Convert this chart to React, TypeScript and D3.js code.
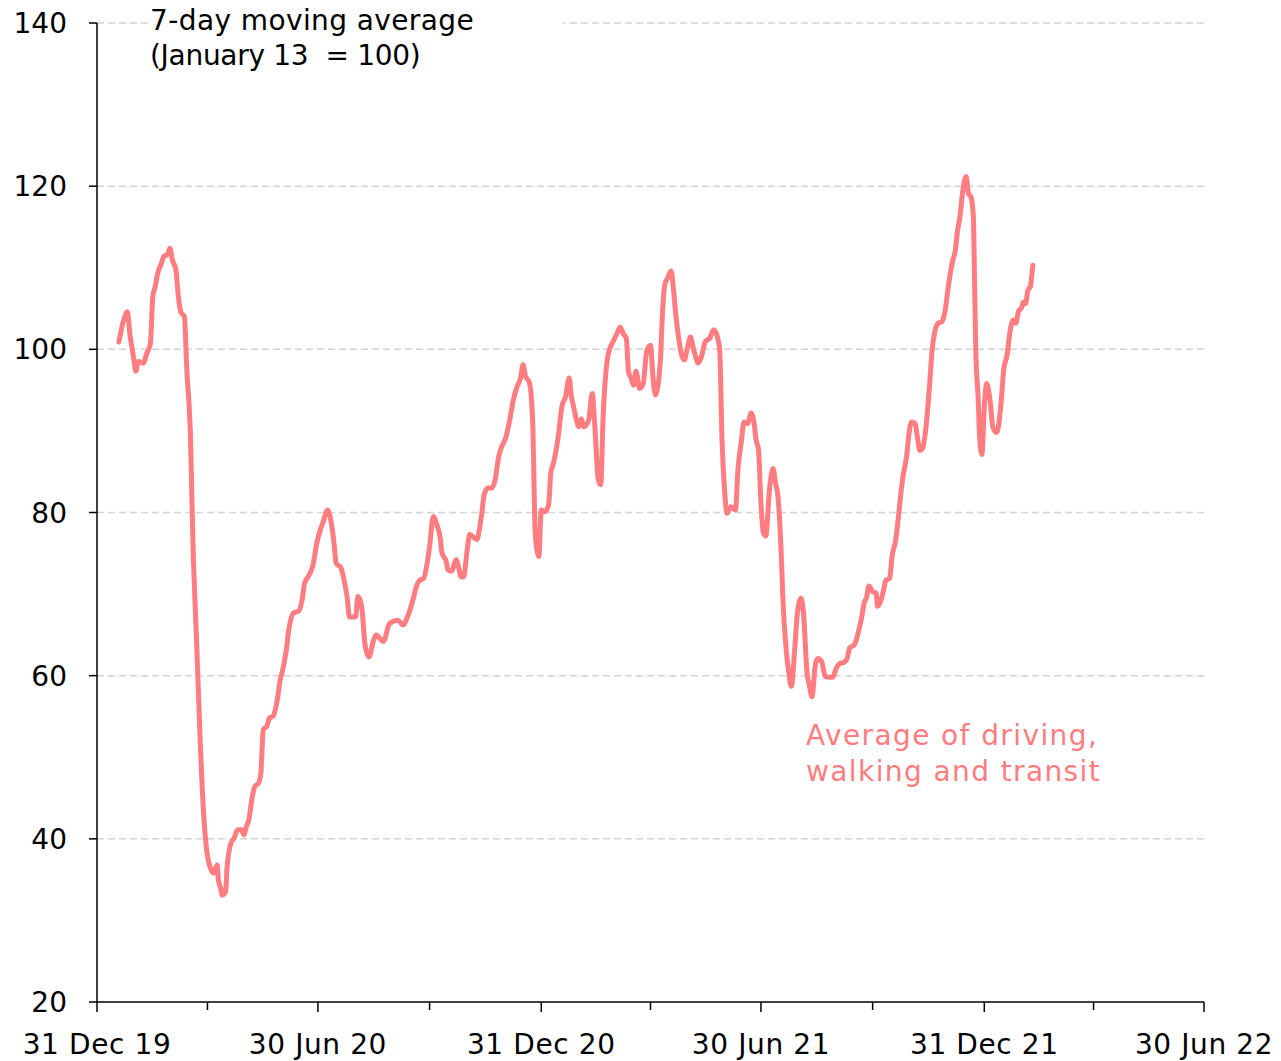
import React from "react";
import * as d3 from "d3";

// ---- Data (7-day moving average, January 13 = 100) ----
const days2020 = [
  "01-18", "01-22", "01-25", "01-27", "01-30",
  "02-01", "02-03", "02-07", "02-10", "02-13", "02-15", "02-17", "02-19", "02-22", "02-24", "02-27", "02-29",
  "03-02", "03-05", "03-07", "03-09", "03-12", "03-14", "03-17", "03-19", "03-22", "03-25", "03-28", "03-30",
  "04-03", "04-05", "04-08", "04-09", "04-11", "04-12", "04-15", "04-16", "04-19", "04-22", "04-25", "04-28", "04-30",
  "05-02", "05-04", "05-07", "05-09", "05-12", "05-14", "05-16", "05-19", "05-21", "05-24", "05-27", "05-30",
  "06-01", "06-04", "06-06", "06-10", "06-14", "06-17", "06-19", "06-23", "06-26", "06-29",
  "07-02", "07-04", "07-08", "07-10", "07-13", "07-15", "07-19", "07-21", "07-24", "07-26", "07-31",
  "08-02", "08-05", "08-08", "08-11", "08-15", "08-17", "08-23", "08-28",
  "09-04", "09-08", "09-12", "09-17", "09-19", "09-22", "09-25", "09-28", "09-30",
  "10-03", "10-06", "10-09", "10-10", "10-14", "10-15", "10-18", "10-22", "10-24", "10-26", "10-28", "10-31",
  "11-02", "11-08", "11-10", "11-12", "11-14", "11-17", "11-20", "11-23", "11-26", "11-28",
  "12-02", "12-05", "12-08", "12-11", "12-14", "12-16", "12-18", "12-21", "12-23", "12-24", "12-26", "12-28", "12-29", "12-31",
];
const values2020 = [
  100.9, 103.6, 104.6, 102, 99.1,
  97.3, 98.5, 98.3, 99.5, 100.7, 106.5, 107.7, 109.3, 110.5, 111.4, 111.6, 112.4,
  111, 109.7, 106.5, 104.6, 104, 97.5, 89.3, 76.6, 64.4, 52.1, 42.7, 39.1,
  36.2, 35.8, 36.8, 35, 33.9, 33.1, 33.5, 36.2, 39.3, 40.1, 41.1, 41.1, 40.5,
  41.5, 42.3, 45.2, 46.4, 46.8, 48.1, 53.4, 53.8, 54.8, 55, 56.6, 59.5,
  60.7, 63.2, 65.6, 67.7, 67.9, 69.3, 71.3, 72.4, 73.6, 76.2,
  77.9, 78.7, 80.3, 79.5, 76.6, 73.8, 73.2, 72.1, 69.7, 67.2, 67.2,
  69.7, 68.5, 63.6, 62.3, 64.4, 65, 64.2, 66.4,
  66.8, 66.2, 67.3, 69.7, 70.9, 71.7, 71.9, 73.8, 75.8,
  79.5, 78.5, 76.6, 75.2, 73.8, 73, 72.8, 74.2, 73.2, 72.1, 72.1, 75.4,
  77.3, 76.7, 77.9, 79.9, 82.2, 83, 83, 84, 86.9, 87.9,
  89.3, 91.3, 93.8, 95.4, 96.5, 98.1, 96.7, 96, 93.8, 90.9, 77.5, 75, 74.6, 80.3,
];
const days2021 = [
  "01-03", "01-06", "01-08", "01-10", "01-14", "01-17", "01-20", "01-23", "01-25", "01-26", "01-29", "01-31",
  "02-02", "02-04", "02-08", "02-11", "02-13", "02-16", "02-18", "02-20", "02-23", "02-26", "02-28",
  "03-03", "03-06", "03-09", "03-11", "03-13", "03-15", "03-17", "03-19", "03-22", "03-25", "03-28", "03-31",
  "04-02", "04-04", "04-08", "04-10", "04-12", "04-14", "04-17", "04-19", "04-21", "04-23", "04-26", "04-28", "04-30",
  "05-03", "05-05", "05-08", "05-09", "05-12", "05-15", "05-19", "05-22", "05-25", "05-27", "05-29", "05-31",
  "06-02", "06-05", "06-09", "06-11", "06-14", "06-16", "06-19", "06-22", "06-24", "06-26", "06-28", "06-30",
  "07-02", "07-04", "07-07", "07-10", "07-12", "07-14", "07-17", "07-18", "07-21", "07-23", "07-25", "07-28", "07-30",
  "08-02", "08-04", "08-07", "08-09", "08-11", "08-14", "08-16", "08-19", "08-22", "08-25", "08-28", "08-31",
  "09-03", "09-06", "09-09", "09-11", "09-15", "09-18", "09-21", "09-23", "09-25", "09-27", "09-30",
  "10-03", "10-04", "10-07", "10-09", "10-11", "10-14", "10-16", "10-19", "10-21", "10-23", "10-25", "10-28", "10-30",
  "11-01", "11-04", "11-06", "11-08", "11-10", "11-13", "11-16", "11-18", "11-20", "11-23", "11-26", "11-29",
  "12-01", "12-03", "12-05", "12-07", "12-09", "12-11", "12-13", "12-16", "12-18", "12-20", "12-22", "12-23", "12-24", "12-26", "12-27", "12-29", "12-31",
];
const values2021 = [
  80.1, 80.9, 85, 86, 89.3, 93, 94.2, 96.5, 94, 93.4, 91.3, 90.5,
  91.5, 90.5, 91.3, 94.6, 90.9, 84, 83.4, 91.8, 98.3, 100.3, 100.9,
  101.8, 102.7, 101.8, 101.4, 97.1, 96.5, 95.6, 97.3, 95.2, 95.8, 99.9, 100.5,
  96.7, 94.4, 98.3, 104.8, 108.1, 108.7, 109.6, 107.3, 104, 101.6, 99.1, 98.7, 99.9,
  101.5, 100.3, 98.7, 98.3, 99.1, 100.9, 101.4, 102.4, 101.6, 99.9, 88.5, 82.8,
  79.9, 80.7, 80.3, 85.2, 88.9, 91.1, 90.9, 92.2, 91.3, 88.9, 87.7, 81.1,
  77.5, 77.1, 82.8, 85.4, 83.6, 82, 73.8, 69.7, 62.8, 60.3, 58.7, 63.6, 67.7,
  69.5, 67.7, 60.3, 58.7, 57.4, 61.5, 62.1, 61.7, 59.9, 59.8, 59.8, 60.9,
  61.5, 61.6, 62.1, 63.4, 63.8, 65.2, 67.2, 68.9, 69.6, 71, 70.3,
  70.1, 68.5, 69.3, 70.5, 71.7, 71.9, 74.6, 76.6, 79.1, 82, 84.4, 86.9, 89.7,
  91.1, 90.9, 89.1, 87.6, 87.8, 90.5, 95.8, 99.9, 102, 103.2, 103.4, 105,
  107.3, 109.3, 110.9, 112, 114.6, 116.3, 119.1, 121.2, 119.1, 118.7, 116.3, 108.1, 99.9, 93.8, 89.7, 87.1, 93,
];
const days2022 = [
  "01-01", "01-02", "01-05", "01-07", "01-10", "01-12", "01-14", "01-16", "01-19", "01-21", "01-24", "01-26", "01-28", "01-31",
  "02-01", "02-03", "02-05", "02-07", "02-08", "02-09",
];
const values2022 = [
  95, 95.8, 93.4, 90.5, 89.8, 90.9, 93.8, 97.5, 99.5, 102, 103.6, 103.2, 104.6, 105.2,
  105.8, 105.6, 107.3, 107.7, 108.9, 110.3,
];

const yTicks = [20, 40, 60, 80, 100, 120, 140];
const majorTickDates = ["2019-12-31", "2020-06-30", "2020-12-31", "2021-06-30", "2021-12-31", "2022-06-30"];
const majorTickLabels = ["31 Dec 19", "30 Jun 20", "31 Dec 20", "30 Jun 21", "31 Dec 21", "30 Jun 22"];
const minorTickDates = ["2020-03-31", "2020-09-30", "2021-03-31", "2021-09-30", "2022-03-31"];
const titleLines = ["7-day moving average", "(January 13  = 100)"];
const seriesLabel = ["Average of driving,", "walking and transit"];

const parse = (s: string) => {
  const [yy, mm, dd] = s.split("-").map(Number);
  return new Date(yy, mm - 1, dd);
};

type Pt = { date: Date; value: number };
const build = (year: number, days: string[], vals: number[]): Pt[] =>
  days.map((d, i) => ({ date: parse(`${year}-${d}`), value: vals[i] }));

const series: Pt[] = [
  ...build(2020, days2020, values2020),
  ...build(2021, days2021, values2021),
  ...build(2022, days2022, values2022),
];

const W = 1281;
const H = 1061;
const LEFT = 97;
const RIGHT = 1204;
const TOP = 23;
const BOTTOM = 1002;
const FONT = "'DejaVu Sans', sans-serif";
const LINE_COLOR = "#FF7C80";

export default function App() {
  const x = d3
    .scaleTime()
    .domain([parse(majorTickDates[0]), parse(majorTickDates[majorTickDates.length - 1])])
    .range([LEFT, RIGHT]);
  const y = d3.scaleLinear().domain([20, 140]).range([BOTTOM, TOP]);

  const line = d3
    .line<Pt>()
    .x((d) => x(d.date))
    .y((d) => y(d.value))
    .curve(d3.curveMonotoneX);

  return (
    <svg
      width={W}
      height={H}
      viewBox={`0 0 ${W} ${H}`}
      style={{ position: "absolute", left: 0, top: 0, background: "#fff" }}
      fontFamily={FONT}
    >
      <rect x={0} y={0} width={W} height={H} fill="#fff" />
      {/* gridlines */}
      {yTicks
        .filter((t) => t !== 20)
        .map((t) => (
          <line
            key={`g${t}`}
            x1={LEFT}
            x2={RIGHT}
            y1={y(t)}
            y2={y(t)}
            stroke="#D3D3D3"
            strokeWidth={1.5}
            strokeDasharray="7,4"
          />
        ))}
      {/* title box */}
      <rect x={148} y={0} width={415} height={76} fill="#fff" />
      {titleLines.map((t, i) => (
        <text
          key={t}
          x={150}
          y={30 + i * 35}
          fontSize={28}
          fill="#000"
          letterSpacing={i === 0 ? 0.4 : -0.3}
          style={{ whiteSpace: "pre" }}
        >
          {t}
        </text>
      ))}
      {/* series */}
      <path
        d={line(series) || ""}
        fill="none"
        stroke={LINE_COLOR}
        strokeWidth={5}
        strokeLinejoin="round"
        strokeLinecap="round"
      />
      {seriesLabel.map((t, i) => (
        <text key={t} x={806} y={745 + i * 36} fontSize={28} fill={LINE_COLOR} letterSpacing={1.4}>
          {t}
        </text>
      ))}
      {/* axes */}
      <line x1={LEFT} x2={LEFT} y1={TOP} y2={BOTTOM} stroke="#000" strokeWidth={1.5} />
      <line x1={LEFT} x2={RIGHT} y1={BOTTOM} y2={BOTTOM} stroke="#000" strokeWidth={1.5} />
      {yTicks.map((t) => (
        <g key={`y${t}`}>
          <line x1={LEFT - 8} x2={LEFT} y1={y(t)} y2={y(t)} stroke="#000" strokeWidth={1.5} />
          <text x={67} y={y(t) + 10} fontSize={28} textAnchor="end" fill="#000">
            {t}
          </text>
        </g>
      ))}
      {majorTickDates.map((d, i) => (
        <g key={d}>
          <line x1={x(parse(d))} x2={x(parse(d))} y1={BOTTOM} y2={BOTTOM + 10} stroke="#000" strokeWidth={1.5} />
          <text x={x(parse(d))} y={1054} fontSize={28} textAnchor="middle" fill="#000" letterSpacing={0.6}>
            {majorTickLabels[i]}
          </text>
        </g>
      ))}
      {minorTickDates.map((d) => (
        <line key={d} x1={x(parse(d))} x2={x(parse(d))} y1={BOTTOM} y2={BOTTOM + 8} stroke="#000" strokeWidth={1.5} />
      ))}
    </svg>
  );
}
